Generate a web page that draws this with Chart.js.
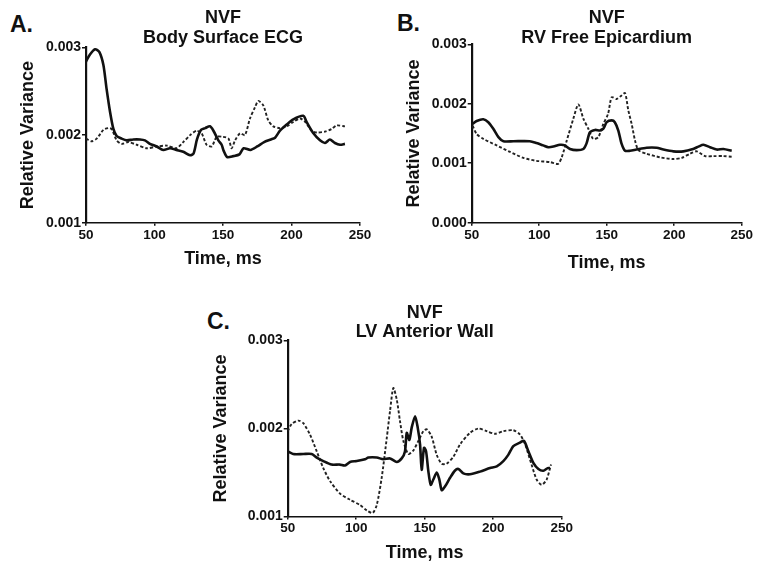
<!DOCTYPE html>
<html>
<head>
<meta charset="utf-8">
<title>NVF relative variance</title>
<script src="https://cdn.jsdelivr.net/npm/chart.js@4.4.0/dist/chart.umd.min.js"></script>
<style>
  body { margin: 0; background: #fff; width: 765px; height: 564px; position: relative; overflow: hidden;
         font-family: "Liberation Sans", Arial, sans-serif; color: #111; }
  .box { position: absolute; }
  .letter { position: absolute; font-weight: bold; font-size: 23px; line-height: 1; }
</style>
</head>
<body>
<div class="letter" style="left:10px;top:13px">A.</div>
<div class="letter" style="left:397px;top:12px">B.</div>
<div class="letter" style="left:207px;top:310px">C.</div>

<div class="box" style="left:0;top:0;width:380px;height:280px"><canvas id="chartA"></canvas></div>
<div class="box" style="left:385px;top:0;width:380px;height:280px"><canvas id="chartB"></canvas></div>
<div class="box" style="left:190px;top:285px;width:400px;height:279px"><canvas id="chartC"></canvas></div>

<script>
// A. Body surface ECG
const aSolidMs  = [50, 52.9, 56.6, 59.7, 62.7, 65, 67.5, 70, 72.4, 76, 79.7, 84.5, 89.4, 93, 96.7, 101.6, 106.4, 111.3, 116, 121, 126, 128.5, 131, 134, 137, 140.5, 143, 146.6, 149, 150.5, 153, 157.5, 162, 165, 170, 175, 180, 185, 188, 191.6, 196.5, 201.3, 208.6, 211, 216, 220.8, 224.5, 228, 231.7, 235.4, 239];
const aSolidVar = [0.00284, 0.00292, 0.00298, 0.00295, 0.0028, 0.00253, 0.00227, 0.00207, 0.00199, 0.00196, 0.00194, 0.00195, 0.00195, 0.00194, 0.0019, 0.00187, 0.00183, 0.00185, 0.00183, 0.00181, 0.00177, 0.00179, 0.00195, 0.00206, 0.00208, 0.0021, 0.00205, 0.00194, 0.00189, 0.00182, 0.00175, 0.00176, 0.00178, 0.00185, 0.00183, 0.00187, 0.00192, 0.00195, 0.00197, 0.00205, 0.00212, 0.00218, 0.00222, 0.00215, 0.00202, 0.00194, 0.00191, 0.00195, 0.00191, 0.00189, 0.0019];
const aDashMs   = [50, 54, 57.8, 62.7, 66.3, 68.7, 72.4, 76, 80.9, 87, 94.3, 101.6, 109, 116, 121, 126, 130.8, 134.4, 138, 141.7, 145.4, 150, 154, 156.3, 158.8, 162.4, 166, 169.7, 173.4, 175.8, 179.4, 183, 186.7, 191.6, 196.5, 201.3, 206.2, 210, 214.7, 218.4, 224.5, 229.3, 233, 239];
const aDashVar  = [0.00196, 0.00193, 0.00196, 0.00206, 0.00208, 0.00207, 0.00194, 0.0019, 0.00192, 0.00189, 0.00185, 0.00187, 0.00188, 0.00185, 0.00192, 0.002, 0.00205, 0.00202, 0.00189, 0.00187, 0.00198, 0.00198, 0.00196, 0.00185, 0.00194, 0.00202, 0.002, 0.00219, 0.00232, 0.00239, 0.00234, 0.00217, 0.0021, 0.00208, 0.0021, 0.00215, 0.00219, 0.00215, 0.00205, 0.00203, 0.00204, 0.00207, 0.00211, 0.0021];

// B. RV free epicardium
const bSolidMs  = [50.7, 53.7, 58.6, 62.3, 66, 69.8, 73.5, 81, 93, 98, 103, 106.8, 110.5, 115.4, 119, 122.8, 127.8, 132.7, 135, 137.6, 141.4, 145, 147.5, 150, 153.7, 156, 158.6, 161, 163.6, 167.3, 172, 179.6, 187, 192, 199.4, 206.8, 214, 218, 221.6, 226.5, 231.5, 236.4, 242.6];
const bSolidVar = [0.00166, 0.00171, 0.00174, 0.00169, 0.00158, 0.00144, 0.00137, 0.00137, 0.00137, 0.00134, 0.0013, 0.00127, 0.00128, 0.00131, 0.0013, 0.00124, 0.00122, 0.00124, 0.00133, 0.00152, 0.00156, 0.00155, 0.00158, 0.00169, 0.00172, 0.00169, 0.00155, 0.00133, 0.00121, 0.00121, 0.00123, 0.00126, 0.00126, 0.00123, 0.0012, 0.0012, 0.00124, 0.00128, 0.00131, 0.00127, 0.00123, 0.00124, 0.00121];
const bDashMs   = [50.7, 53.7, 58.6, 68.5, 78.4, 88.3, 98, 108, 114, 116.7, 120.4, 125.3, 129, 132.7, 136.4, 140, 143.8, 147.5, 151, 153.7, 157.4, 161, 163.6, 166, 168.5, 171, 173.5, 179.6, 189.5, 199.4, 205.6, 211.7, 216.7, 222.8, 229, 236.4, 242.6];
const bDashVar  = [0.00163, 0.00149, 0.00141, 0.0013, 0.00119, 0.00109, 0.00104, 0.00102, 0.00099, 0.0011, 0.00138, 0.00175, 0.00199, 0.00175, 0.00158, 0.00141, 0.00144, 0.00166, 0.00183, 0.00211, 0.00208, 0.00214, 0.00218, 0.00189, 0.00166, 0.00138, 0.00122, 0.00116, 0.0011, 0.00107, 0.00109, 0.00116, 0.0012, 0.00112, 0.00112, 0.00112, 0.00111];

// C. LV anterior wall
const cSolidMs  = [50, 54, 61.4, 67.5, 71.2, 76, 82, 88, 91.8, 95.5, 100.4, 106.4, 108.9, 115, 119.8, 124.7, 129.6, 133.2, 135.6, 136.9, 138.8, 140.5, 143, 144.9, 146.6, 147.8, 149.5, 151, 152.7, 154.4, 156.3, 158.8, 160.7, 162.4, 164.8, 168.5, 172, 174.6, 178.2, 183, 190.4, 197.7, 202.6, 207.4, 211, 214.7, 219.6, 222.5, 225.7, 229.3, 233, 236.6, 239.8, 241.5];
const cSolidVar = [0.00174, 0.00171, 0.00171, 0.00171, 0.00167, 0.00163, 0.00159, 0.00159, 0.00158, 0.00162, 0.00163, 0.00165, 0.00167, 0.00167, 0.00165, 0.00166, 0.00162, 0.00166, 0.00174, 0.00195, 0.00187, 0.00201, 0.00214, 0.00201, 0.00182, 0.00153, 0.00178, 0.00174, 0.00151, 0.00136, 0.00142, 0.0015, 0.00142, 0.0013, 0.00134, 0.00144, 0.00152, 0.00154, 0.00149, 0.00148, 0.00151, 0.00155, 0.00157, 0.00163, 0.0017, 0.0018, 0.00184, 0.00186, 0.00174, 0.00161, 0.00154, 0.00152, 0.00155, 0.00155];
const cDashMs   = [50, 52.9, 57.8, 61.4, 66.3, 71.2, 76, 81, 88.2, 95.5, 102.8, 107.7, 112, 115, 118.6, 122.3, 124.7, 127.1, 129.6, 132, 134.4, 138, 141.7, 145.4, 149, 151.5, 155, 158.8, 162.4, 166, 171, 175.8, 183, 189.2, 195.3, 201.3, 207.4, 214.7, 219.6, 223.3, 228, 231.7, 235.4, 239, 242.2];
const cDashVar  = [0.00197, 0.00205, 0.00209, 0.00206, 0.00193, 0.00174, 0.00155, 0.0014, 0.00126, 0.00119, 0.00113, 0.00107, 0.00104, 0.00113, 0.00144, 0.00189, 0.0022, 0.00246, 0.00233, 0.00208, 0.00186, 0.00171, 0.00175, 0.00186, 0.00197, 0.00199, 0.00191, 0.0017, 0.0016, 0.0016, 0.00168, 0.00182, 0.00195, 0.002, 0.00197, 0.00194, 0.00197, 0.00198, 0.00193, 0.00182, 0.00159, 0.00142, 0.00136, 0.00142, 0.00159];

const titleA = ['NVF', 'Body Surface ECG'];
const titleB = ['NVF', 'RV Free Epicardium'];
const titleC = ['NVF', 'LV Anterior Wall'];

Chart.defaults.font.family = '"Liberation Sans", Arial, sans-serif';
Chart.defaults.color = '#111';

function toPoints(xs, ys) {
    return xs.map((x, i) => ({ x: x, y: ys[i] }));
}

function makePanel(id, title, solidX, solidY, dashX, dashY, yMin, lay) {
    const ctx = document.getElementById(id).getContext('2d');
    new Chart(ctx, {
        type: 'line',
        data: {
            datasets: [{
                label: 'solid',
                data: toPoints(solidX, solidY),
                borderColor: '#111',
                borderWidth: 2.6,
                pointRadius: 0,
                tension: 0.25,
                fill: false
            }, {
                label: 'dotted',
                data: toPoints(dashX, dashY),
                borderColor: '#222',
                borderWidth: 1.9,
                borderDash: [3, 2],
                pointRadius: 0,
                tension: 0.25,
                fill: false
            }]
        },
        options: {
            responsive: true,
            maintainAspectRatio: false,
            animation: false,
            layout: { padding: { left: lay.padLeft, right: lay.padRight, top: 4, bottom: 0 } },
            plugins: {
                legend: { display: false },
                tooltip: { enabled: false },
                title: {
                    display: true,
                    text: title,
                    fullSize: false,
                    color: '#111',
                    font: { size: 18, weight: 'bold', lineHeight: lay.titleLine / 18 },
                    padding: { top: lay.titleTop, bottom: lay.titleBottom }
                }
            },
            scales: {
                x: {
                    type: 'linear',
                    min: 50,
                    max: 250,
                    afterFit: s => { s.height = lay.xHeight; },
                    ticks: { stepSize: 50, padding: 1, font: { size: 13.5, weight: 'bold' }, color: '#111' },
                    grid: { drawOnChartArea: false, tickLength: 3, color: '#111', lineWidth: 1.5 },
                    border: { display: true, color: '#111', width: 1.6 },
                    title: { display: true, text: 'Time, ms', font: { size: 18, weight: 'bold' },
                             color: '#111', padding: { top: 0, bottom: lay.xTitlePad } }
                },
                y: {
                    min: yMin,
                    max: 0.003,
                    afterFit: s => { s.width = lay.axisLeft - lay.padLeft; },
                    ticks: { stepSize: 0.001, padding: 1, font: { size: 14, weight: 'bold' }, color: '#111',
                             callback: v => v.toFixed(3) },
                    grid: { drawOnChartArea: false, tickLength: 4, color: '#111', lineWidth: 1.5 },
                    border: { display: true, color: '#111', width: 2.2 },
                    title: { display: true, text: 'Relative Variance', font: { size: 18, weight: 'bold' },
                             color: '#111', padding: { top: 4, bottom: 0 } }
                }
            }
        }
    });
}

makePanel('chartA', titleA, aSolidMs, aSolidVar, aDashMs, aDashVar, 0.001,
    { padLeft: 13.5, padRight: 20, axisLeft: 86, titleLine: 20, titleTop: 4.3, titleBottom: -0.8, xHeight: 57.3, xTitlePad: 10.2 });
makePanel('chartB', titleB, bSolidMs, bSolidVar, bDashMs, bDashVar, 0,
    { padLeft: 14.5, padRight: 23.3, axisLeft: 86.7, titleLine: 20, titleTop: 4.3, titleBottom: -4, xHeight: 57.3, xTitlePad: 6.2 });
makePanel('chartC', titleC, cSolidMs, cSolidVar, cDashMs, cDashVar, 0.001,
    { padLeft: 16.5, padRight: 28.3, axisLeft: 97.7, titleLine: 18.5, titleTop: 15, titleBottom: -0.5, xHeight: 47.5, xTitlePad: 0.2 });
</script>
</body>
</html>
